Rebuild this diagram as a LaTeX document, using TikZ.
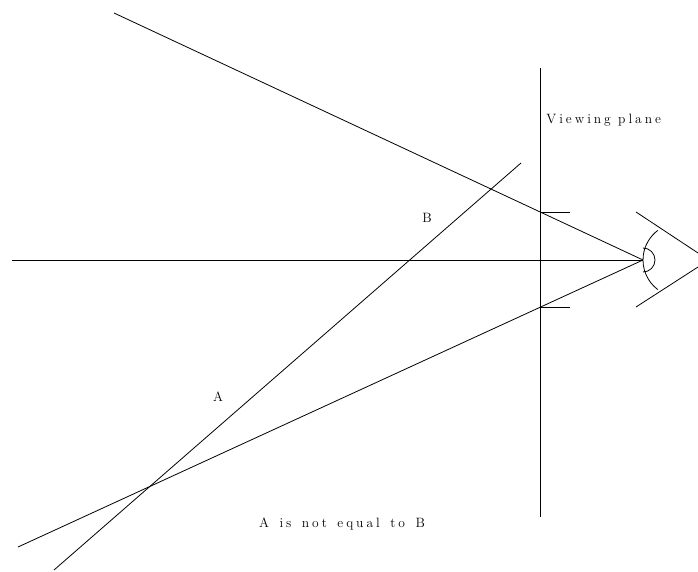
\documentclass[tikz,border=0pt]{standalone}
\usepackage{fontspec}
\setmainfont{Latin Modern Roman}[LetterSpace=22]
\newcommand\mywidespace{\spaceskip=10.5pt\relax}
\begin{document}
\begin{tikzpicture}[x=1pt,y=-1pt,line width=0.8pt,
  lbl/.style={inner sep=0pt,font=\fontsize{13.5}{15}\selectfont},
  widelbl/.style={lbl,font=\fontsize{13.5}{15}\selectfont\mywidespace}]
\useasboundingbox (0,0) rectangle (698,572);
% coordinates
\coordinate (eye) at (643,260);
\coordinate (axL) at (12,260);
\coordinate (upS) at (114,13);
\coordinate (loS) at (18,547);
\coordinate (vpT) at (540,68);
\coordinate (vpB) at (540,517);
\coordinate (dgB) at (54,570);
\coordinate (dgT) at (521,163);
\coordinate (tkU) at (540,212);
\coordinate (tkUe) at (570,212);
\coordinate (tkL) at (540,307);
\coordinate (tkLe) at (570,307);
\coordinate (lidU1) at (636,212);
\coordinate (lidU2) at (698,253);
\coordinate (lidL1) at (636,307);
\coordinate (lidL2) at (698,267);
% lines
\draw (axL) -- (eye);
\draw (upS) -- (eye);
\draw (loS) -- (eye);
\draw (vpT) -- (vpB);
\draw (dgB) -- (dgT);
\draw (tkU) -- (tkUe);
\draw (tkL) -- (tkLe);
\draw (lidU1) -- (lidU2);
\draw (lidL1) -- (lidL2);
% eye arcs
\draw (680,260) ++(127:37) arc[start angle=127,end angle=233,radius=37];
\draw (643,248) arc[start angle=-90,end angle=90,radius=12];
% labels
\node[lbl,anchor=west] (vp) at (546,120) {Viewing plane};
\node[lbl] (B) at (427,218) {B};
\node[lbl] (A) at (218,397) {A};
\node[widelbl] (note) at (342,524) {A is not equal to B};
\end{tikzpicture}
\end{document}
